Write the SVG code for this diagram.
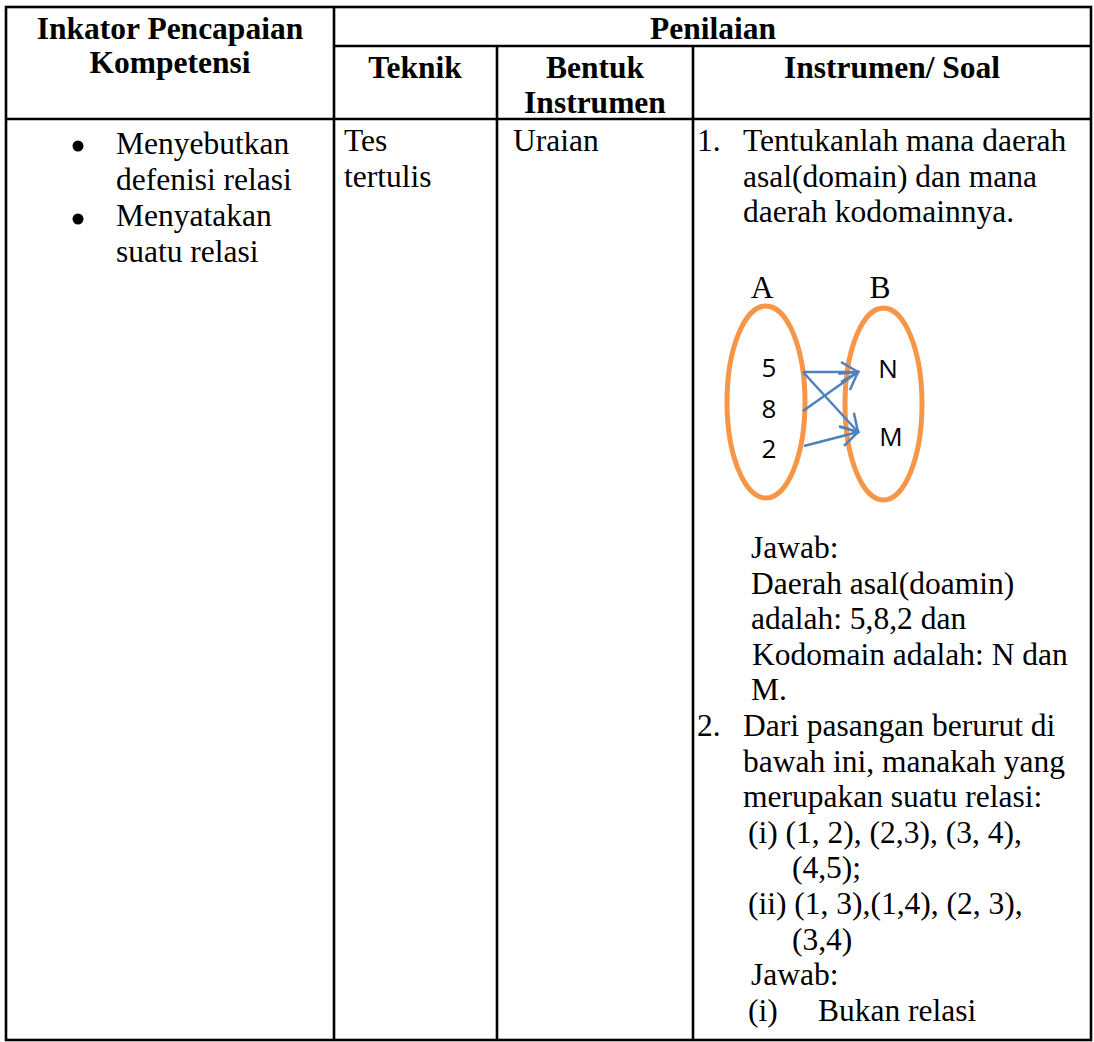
<svg xmlns="http://www.w3.org/2000/svg" width="1094" height="1042" viewBox="0 0 1094 1042">
<style>
.t{font-family:"Liberation Serif","Times New Roman",serif;font-size:31.5px;fill:#000}
.b{font-weight:bold}
.m{text-anchor:middle}
.g{stroke:#000;stroke-width:2.6;fill:none}
.ell{fill:none;stroke:#F79646;stroke-width:5}
.lab{font-family:"Open Sans","Liberation Sans",sans-serif;font-size:26px;fill:#000;text-anchor:middle}
.arr{stroke:#4F81BD;stroke-width:2.5;fill:none;marker-end:url(#ah)}
</style>
<defs>
<marker id="ah" markerUnits="userSpaceOnUse" viewBox="-20 -12 24 24" refX="0" refY="0" markerWidth="24" markerHeight="24" orient="auto">
<path d="M-17,-10 L0,0 L-17,10" fill="none" stroke="#4F81BD" stroke-width="2.5" stroke-linejoin="miter"/>
</marker>
</defs>
<rect width="1094" height="1042" fill="#fff"/>
<g id="grid" class="g">
<rect x="6" y="7" width="1085" height="1033"/>
<line x1="334" y1="7" x2="334" y2="1040"/>
<line x1="334" y1="46" x2="1091" y2="46"/>
<line x1="6" y1="119" x2="1091" y2="119"/>
<line x1="497" y1="46" x2="497" y2="1040"/>
<line x1="693" y1="46" x2="693" y2="1040"/>
</g>
<g id="header" class="t b m">
<text x="170" y="39">Inkator Pencapaian</text>
<text x="170" y="73">Kompetensi</text>
<text x="713" y="39">Penilaian</text>
<text x="415" y="78">Teknik</text>
<text x="595" y="78">Bentuk</text>
<text x="595" y="113">Instrumen</text>
<text x="892" y="78">Instrumen/ Soal</text>
</g>
<g id="col-indikator" class="t">
<circle cx="78" cy="146" r="5.5" fill="#000"/>
<text x="116" y="154">Menyebutkan</text>
<text x="116" y="190">defenisi relasi</text>
<circle cx="78" cy="219" r="5.5" fill="#000"/>
<text x="116" y="226">Menyatakan</text>
<text x="116" y="262">suatu relasi</text>
</g>
<g id="col-teknik" class="t">
<text x="344" y="151">Tes</text>
<text x="344" y="186.6">tertulis</text>
</g>
<g id="col-bentuk" class="t">
<text x="513" y="151">Uraian</text>
</g>
<g id="col-soal" class="t">
<text x="697" y="151">1.</text>
<text x="743" y="151">Tentukanlah mana daerah</text>
<text x="743" y="186.6">asal(domain) dan mana</text>
<text x="743" y="222.2">daerah kodomainnya.</text>
<text x="751" y="558">Jawab:</text>
<text x="751" y="593.6">Daerah asal(doamin)</text>
<text x="751" y="629.2">adalah: 5,8,2 dan</text>
<text x="752" y="664.8">Kodomain adalah: N dan</text>
<text x="751" y="700.4">M.</text>
<text x="697" y="736">2.</text>
<text x="743" y="736">Dari pasangan berurut di</text>
<text x="743" y="771.6">bawah ini, manakah yang</text>
<text x="743" y="807.2">merupakan suatu relasi:</text>
<text x="748" y="842.8">(i) (1, 2), (2,3), (3, 4),</text>
<text x="792" y="878.4">(4,5);</text>
<text x="748" y="914">(ii) (1, 3),(1,4), (2, 3),</text>
<text x="792" y="949.6">(3,4)</text>
<text x="751" y="985.2">Jawab:</text>
<text x="748" y="1020.8">(i)</text>
<text x="818" y="1020.8">Bukan relasi</text>
</g>
<g id="set-A">
<text class="t m" x="762" y="298">A</text>
<ellipse class="ell" cx="766" cy="402" rx="39" ry="96"/>
<text class="lab" x="769" y="377">5</text>
<text class="lab" x="769" y="418">8</text>
<text class="lab" x="769" y="458">2</text>
</g>
<g id="set-B">
<text class="t m" x="880" y="298">B</text>
<ellipse class="ell" cx="883.5" cy="404" rx="38.5" ry="96"/>
<text class="lab" x="888" y="378">N</text>
<text class="lab" x="891" y="446">M</text>
</g>
<g id="connectors">
<line class="arr" x1="803" y1="372" x2="858" y2="372"/>
<line class="arr" x1="803" y1="411" x2="858" y2="372"/>
<line class="arr" x1="803" y1="372" x2="858" y2="432"/>
<line class="arr" x1="804" y1="446" x2="858" y2="432"/>
</g>
</svg>
